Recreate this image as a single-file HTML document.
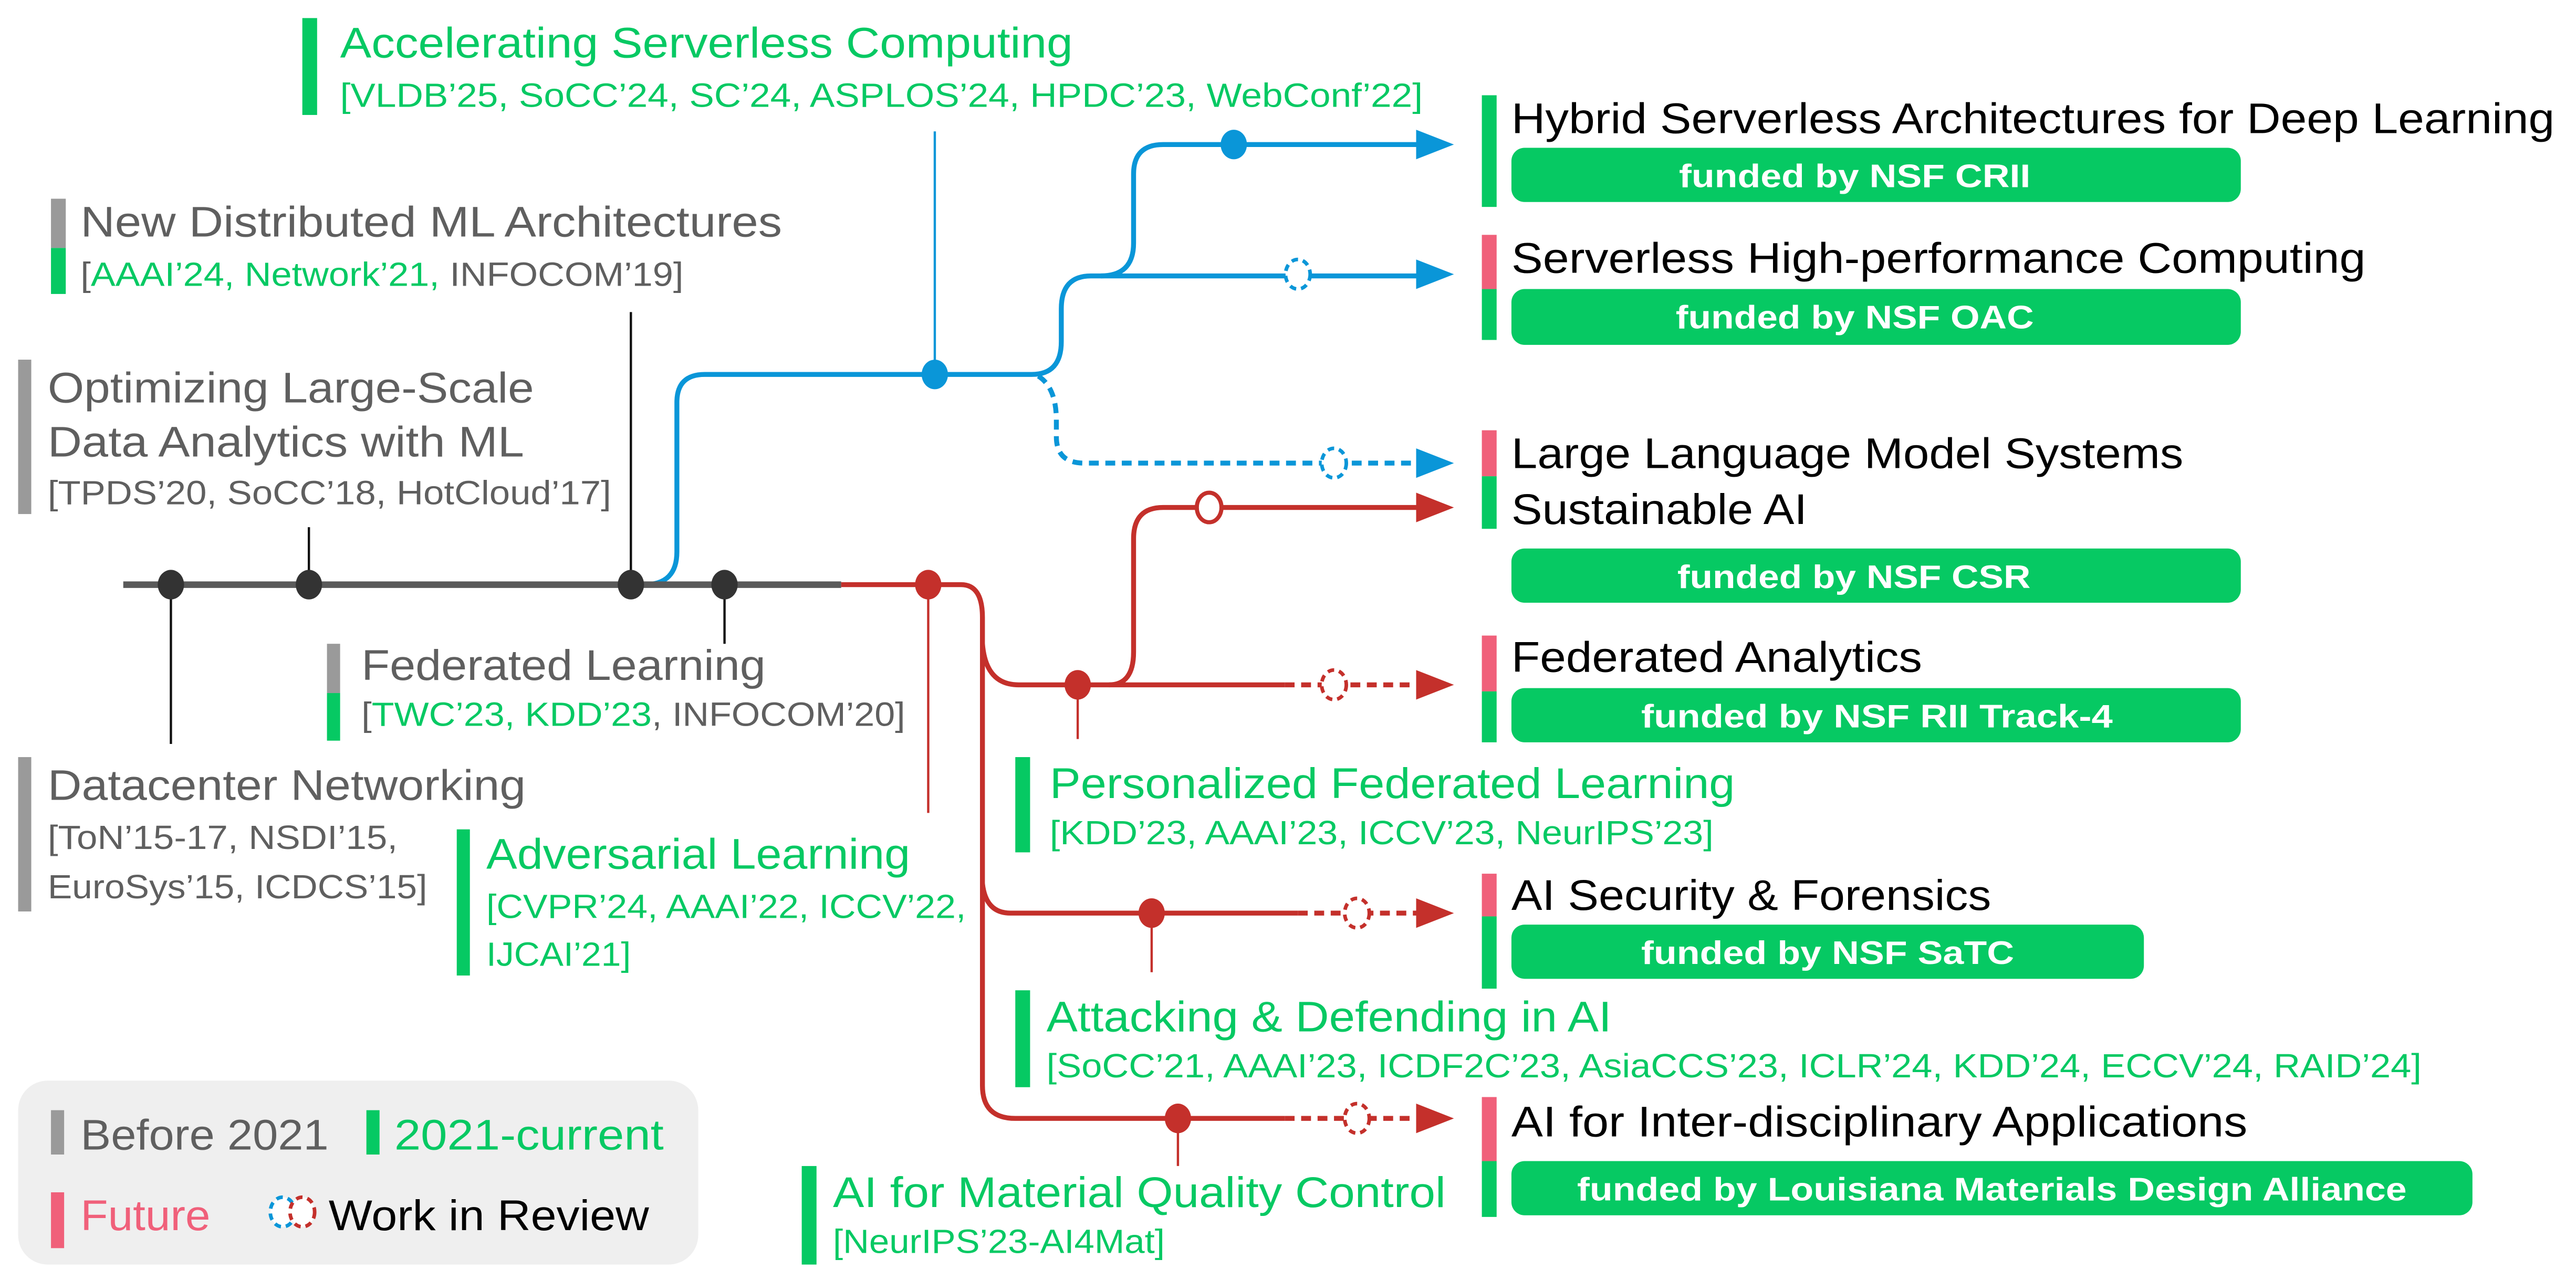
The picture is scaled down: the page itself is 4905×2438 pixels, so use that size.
<!DOCTYPE html>
<html><head><meta charset="utf-8"><style>
html,body{margin:0;padding:0;background:#fff;}
svg{display:block;}
text{font-family:"Liberation Sans",Arial,sans-serif;}
.t{font-size:26px;}
.r{font-size:20.5px;}
.b{font-size:20px;font-weight:bold;fill:#fff;}
.g{fill:#06c963;} .k{fill:#000;} .y{fill:#5f5f5f;} .p{fill:#f0607a;}
</style></head><body>
<svg width="4905" height="2438" viewBox="0 0 1568 779.4" xmlns="http://www.w3.org/2000/svg">
<defs></defs>
<!-- legend box -->
<rect x="11" y="658" width="414" height="112" rx="18" fill="#efefef"/>

<!-- stems -->
<g stroke="#111" stroke-width="1.4" fill="none">
<line x1="104" y1="356" x2="104" y2="453"/>
<line x1="188" y1="356" x2="188" y2="321"/>
<line x1="384" y1="356" x2="384" y2="190"/>
<line x1="441" y1="356" x2="441" y2="392"/>
</g>
<line x1="569" y1="228" x2="569" y2="80" stroke="#0a96d8" stroke-width="1.4"/>
<g stroke="#c4302b" stroke-width="1.4">
<line x1="565" y1="356" x2="565" y2="495"/>
<line x1="656" y1="417" x2="656" y2="450"/>
<line x1="701" y1="556" x2="701" y2="592"/>
<line x1="717" y1="681" x2="717" y2="710"/>
</g>

<!-- blue lines -->
<g stroke="#0a96d8" stroke-width="3" fill="none">
<path d="M392 356 Q412 356 412 336 V245 Q412 228 429 228 H628 Q646 228 646 208 V188 Q646 168 664 168 H862"/>
<path d="M670 168 Q690 168 690 148 V106 Q690 88 708 88 H862"/>
<path d="M632 229 Q643 236 643 256 V266 Q643 282 660 282 H862" stroke-dasharray="6 4"/>
</g>
<!-- main gray line -->
<line x1="75" y1="356" x2="512" y2="356" stroke="#5a5a5a" stroke-width="4"/>
<!-- red lines -->
<g stroke="#c4302b" stroke-width="3" fill="none">
<path d="M512 356 H585 Q598 356 598 376 V661 Q598 681 618 681 H782"/>
<path d="M598 392 Q600 417 620 417 H782"/>
<path d="M675 417 Q690 417 690 397 V328 Q690 309 708 309 H862"/>
<path d="M598 538 Q600 556 615 556 H790"/>
<path d="M782 417 H862 M790 556 H862 M782 681 H862" stroke-dasharray="6 4"/>
</g>
<!-- arrowheads -->
<g fill="#0a96d8">
<polygon points="862,79 885,88 862,97"/>
<polygon points="862,158 885,167 862,176"/>
<polygon points="862,273 885,282 862,291"/>
</g>
<g fill="#c4302b">
<polygon points="862,300 885,309 862,318"/>
<polygon points="862,408 885,417 862,426"/>
<polygon points="862,547 885,556 862,565"/>
<polygon points="862,672 885,681 862,690"/>
</g>
<!-- dots -->
<g fill="#333">
<ellipse cx="104" cy="356" rx="8" ry="9"/>
<ellipse cx="188" cy="356" rx="8" ry="9"/>
<ellipse cx="384" cy="356" rx="8" ry="9"/>
<ellipse cx="441" cy="356" rx="8" ry="9"/>
</g>
<g fill="#0a96d8">
<ellipse cx="569" cy="228" rx="8" ry="9"/>
<ellipse cx="751" cy="88" rx="8" ry="9"/>
</g>
<g fill="#c4302b">
<ellipse cx="565" cy="356" rx="8" ry="9"/>
<ellipse cx="656" cy="417" rx="8" ry="9"/>
<ellipse cx="701" cy="556" rx="8" ry="9"/>
<ellipse cx="717" cy="681" rx="8" ry="9"/>
</g>
<ellipse cx="736" cy="309" rx="7.5" ry="9" fill="#fff" stroke="#c4302b" stroke-width="2.5"/>
<g fill="#fff" stroke-width="2.2" stroke-dasharray="4 3">
<ellipse cx="790" cy="167" rx="7.5" ry="9" stroke="#0a96d8"/>
<ellipse cx="812" cy="282" rx="7.5" ry="9" stroke="#0a96d8"/>
<ellipse cx="812" cy="417" rx="7.5" ry="9" stroke="#c4302b"/>
<ellipse cx="826" cy="556" rx="7.5" ry="9" stroke="#c4302b"/>
<ellipse cx="826" cy="681" rx="7.5" ry="9" stroke="#c4302b"/>
</g>

<!-- bars -->
<g>
<rect x="184" y="11" width="9" height="59" fill="#06c963"/>
<rect x="31" y="121" width="9" height="30" fill="#9a9a9a"/><rect x="31" y="151" width="9" height="28" fill="#06c963"/>
<rect x="11" y="219" width="8" height="94" fill="#9a9a9a"/>
<rect x="199" y="392" width="8" height="30" fill="#9a9a9a"/><rect x="199" y="422" width="8" height="29" fill="#06c963"/>
<rect x="11" y="461" width="8" height="94" fill="#9a9a9a"/>
<rect x="278" y="505" width="8" height="89" fill="#06c963"/>
<rect x="618" y="461" width="9" height="58" fill="#06c963"/>
<rect x="618" y="603" width="9" height="59" fill="#06c963"/>
<rect x="488" y="710" width="9" height="60" fill="#06c963"/>
<rect x="902" y="58" width="9" height="68" fill="#06c963"/>
<rect x="902" y="143" width="9" height="33" fill="#f0607a"/><rect x="902" y="176" width="9" height="31" fill="#06c963"/>
<rect x="902" y="262" width="9" height="28" fill="#f0607a"/><rect x="902" y="290" width="9" height="32" fill="#06c963"/>
<rect x="902" y="387" width="9" height="34" fill="#f0607a"/><rect x="902" y="421" width="9" height="31" fill="#06c963"/>
<rect x="902" y="532" width="9" height="26" fill="#f0607a"/><rect x="902" y="558" width="9" height="44" fill="#06c963"/>
<rect x="902" y="668" width="9" height="39" fill="#f0607a"/><rect x="902" y="707" width="9" height="34" fill="#06c963"/>
<rect x="31" y="676" width="8" height="27" fill="#9a9a9a"/>
<rect x="223" y="676" width="8" height="27" fill="#06c963"/>
<rect x="31" y="726" width="8" height="34" fill="#f0607a"/>
</g>

<!-- badges -->
<g fill="#06c963">
<rect x="920" y="90" width="444" height="33" rx="8"/>
<rect x="920" y="176" width="444" height="34" rx="8"/>
<rect x="920" y="334" width="444" height="33" rx="8"/>
<rect x="920" y="419" width="444" height="33" rx="8"/>
<rect x="920" y="563" width="385" height="33" rx="8"/>
<rect x="920" y="707" width="585" height="33" rx="8"/>
</g>
<g class="b" lengthAdjust="spacingAndGlyphs">
<text x="1022" y="114" textLength="214" lengthAdjust="spacingAndGlyphs">funded by NSF CRII</text>
<text x="1020" y="200" textLength="218" lengthAdjust="spacingAndGlyphs">funded by NSF OAC</text>
<text x="1021" y="358" textLength="215" lengthAdjust="spacingAndGlyphs">funded by NSF CSR</text>
<text x="999" y="443" textLength="287" lengthAdjust="spacingAndGlyphs">funded by NSF RII Track-4</text>
<text x="999" y="587" textLength="227" lengthAdjust="spacingAndGlyphs">funded by NSF SaTC</text>
<text x="960" y="731" textLength="505" lengthAdjust="spacingAndGlyphs">funded by Louisiana Materials Design Alliance</text>
</g>

<!-- right titles -->
<g class="t k">
<text x="920" y="81" textLength="635" lengthAdjust="spacingAndGlyphs">Hybrid Serverless Architectures for Deep Learning</text>
<text x="920" y="166" textLength="520" lengthAdjust="spacingAndGlyphs">Serverless High-performance Computing</text>
<text x="920" y="285" textLength="409" lengthAdjust="spacingAndGlyphs">Large Language Model Systems</text>
<text x="920" y="319" textLength="180" lengthAdjust="spacingAndGlyphs">Sustainable AI</text>
<text x="920" y="409" textLength="250" lengthAdjust="spacingAndGlyphs">Federated Analytics</text>
<text x="920" y="554" textLength="292" lengthAdjust="spacingAndGlyphs">AI Security &amp; Forensics</text>
<text x="920" y="692" textLength="448" lengthAdjust="spacingAndGlyphs">AI for Inter-disciplinary Applications</text>
</g>

<!-- green titles -->
<g class="t g">
<text x="207" y="35" textLength="446" lengthAdjust="spacingAndGlyphs">Accelerating Serverless Computing</text>
<text x="639" y="486" textLength="417" lengthAdjust="spacingAndGlyphs">Personalized Federated Learning</text>
<text x="637" y="628" textLength="344" lengthAdjust="spacingAndGlyphs">Attacking &amp; Defending in AI</text>
<text x="507" y="735" textLength="373" lengthAdjust="spacingAndGlyphs">AI for Material Quality Control</text>
<text x="296" y="529" textLength="258" lengthAdjust="spacingAndGlyphs">Adversarial Learning</text>
</g>
<g class="r g">
<text x="207" y="65" textLength="659" lengthAdjust="spacingAndGlyphs">[VLDB’25, SoCC’24, SC’24, ASPLOS’24, HPDC’23, WebConf’22]</text>
<text x="639" y="514" textLength="404" lengthAdjust="spacingAndGlyphs">[KDD’23, AAAI’23, ICCV’23, NeurIPS’23]</text>
<text x="637" y="656" textLength="837" lengthAdjust="spacingAndGlyphs">[SoCC’21, AAAI’23, ICDF2C’23, AsiaCCS’23, ICLR’24, KDD’24, ECCV’24, RAID’24]</text>
<text x="507" y="763" textLength="202" lengthAdjust="spacingAndGlyphs">[NeurIPS’23-AI4Mat]</text>
<text x="296" y="559" textLength="292" lengthAdjust="spacingAndGlyphs">[CVPR’24, AAAI’22, ICCV’22,</text>
<text x="296" y="588" textLength="88" lengthAdjust="spacingAndGlyphs">IJCAI’21]</text>
</g>

<!-- gray titles -->
<g class="t y">
<text x="49" y="144" textLength="427" lengthAdjust="spacingAndGlyphs">New Distributed ML Architectures</text>
<text x="29" y="245" textLength="296" lengthAdjust="spacingAndGlyphs">Optimizing Large-Scale</text>
<text x="29" y="278" textLength="290" lengthAdjust="spacingAndGlyphs">Data Analytics with ML</text>
<text x="220" y="414" textLength="246" lengthAdjust="spacingAndGlyphs">Federated Learning</text>
<text x="29" y="487" textLength="291" lengthAdjust="spacingAndGlyphs">Datacenter Networking</text>
</g>
<g class="r y">
<text x="49" y="174" textLength="367" lengthAdjust="spacingAndGlyphs">[<tspan class="g">AAAI’24, Network’21,</tspan> INFOCOM’19]</text>
<text x="29" y="307" textLength="343" lengthAdjust="spacingAndGlyphs">[TPDS’20, SoCC’18, HotCloud’17]</text>
<text x="220" y="442" textLength="331" lengthAdjust="spacingAndGlyphs">[<tspan class="g">TWC’23, KDD’23</tspan>, INFOCOM’20]</text>
<text x="29" y="517" textLength="213" lengthAdjust="spacingAndGlyphs">[ToN’15-17, NSDI’15,</text>
<text x="29" y="547" textLength="231" lengthAdjust="spacingAndGlyphs">EuroSys’15, ICDCS’15]</text>
</g>

<!-- legend text -->
<text class="t y" x="49" y="700" textLength="151" lengthAdjust="spacingAndGlyphs">Before 2021</text>
<text class="t g" x="240" y="700" textLength="164" lengthAdjust="spacingAndGlyphs">2021-current</text>
<text class="t p" x="49" y="749" textLength="79" lengthAdjust="spacingAndGlyphs">Future</text>
<text class="t k" x="200" y="749" textLength="195" lengthAdjust="spacingAndGlyphs">Work in Review</text>
<ellipse cx="172" cy="738" rx="7.5" ry="9" fill="#fff" stroke="#0a96d8" stroke-width="2.2" stroke-dasharray="4 3"/>
<ellipse cx="184" cy="738" rx="7.5" ry="9" fill="#fff" stroke="#c4302b" stroke-width="2.2" stroke-dasharray="4 3"/>
</svg>
</body></html>
